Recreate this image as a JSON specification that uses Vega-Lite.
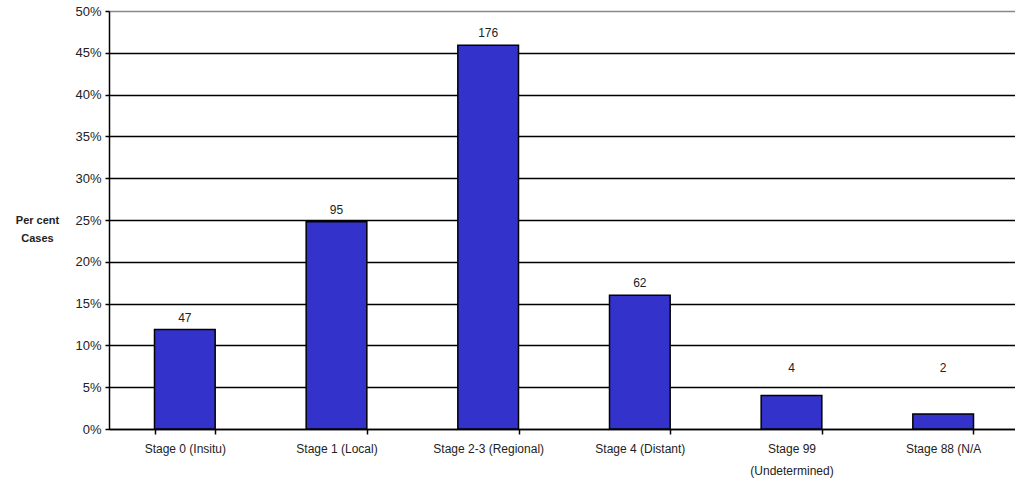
{
  "$schema": "https://vega.github.io/schema/vega-lite/v6.json",
  "autosize": {"type": "none"},
  "padding": {"left": 109, "top": 11, "right": 0, "bottom": 56},
  "width": 910,
  "height": 418,
  "background": "white",
  "config": {
    "view": {"stroke": null},
    "font": "Liberation Sans"
  },
  "data": {
    "values": [
      {"stage": "Stage 0 (Insitu)", "pct": 0.119, "count": 47},
      {"stage": "Stage 1 (Local)", "pct": 0.248, "count": 95},
      {"stage": "Stage 2-3 (Regional)", "pct": 0.459, "count": 176},
      {"stage": "Stage 4 (Distant)", "pct": 0.16, "count": 62},
      {"stage": "Stage 99 (Undetermined)", "pct": 0.04, "count": 4},
      {"stage": "Stage 88 (N/A", "pct": 0.018, "count": 2}
    ]
  },
  "encoding": {
    "x": {
      "field": "stage",
      "type": "nominal",
      "sort": null,
      "scale": {"paddingInner": 0.6, "paddingOuter": 0.3},
      "axis": {
        "title": null,
        "labelAngle": 0,
        "ticks": true,
        "tickBand": "extent",
        "domainColor": "black",
        "domainWidth": 1.5,
        "tickColor": "black",
        "tickWidth": 1.5,
        "tickSize": 5,
        "labelPadding": 9,
        "labelFontSize": 12,
        "labelColor": "#222222",
        "labelLineHeight": 22,
        "labelBaseline": "top",
        "labelExpr": "datum.label == 'Stage 99 (Undetermined)' ? ['Stage 99', '(Undetermined)'] : datum.label"
      }
    }
  },
  "layer": [
    {
      "mark": {"type": "bar", "color": "#3333CC", "stroke": "black", "strokeWidth": 1.5},
      "encoding": {
        "y": {
          "field": "pct",
          "type": "quantitative",
          "scale": {"domain": [0, 0.5], "nice": false},
          "axis": {
            "values": [0, 0.05, 0.1, 0.15, 0.2, 0.25, 0.3, 0.35, 0.4, 0.45, 0.5],
            "format": ".0%",
            "grid": true,
            "gridColor": {"condition": {"test": "datum.value >= 0.5", "value": "#888888"}, "value": "black"},
            "gridOpacity": 1,
            "gridWidth": 1.5,
            "domainColor": "black",
            "domainWidth": 1.5,
            "tickColor": "black",
            "tickWidth": 1.5,
            "tickSize": 4,
            "labelPadding": 4,
            "labelFontSize": 13,
            "labelColor": "#222222",
            "title": ["Per cent", "Cases"],
            "titleAngle": 0,
            "titleAlign": "center",
            "titleBaseline": "middle",
            "titleX": -72,
            "titleY": 209,
            "titleFontSize": 11,
            "titleFontWeight": "bold",
            "titleColor": "#222222",
            "titleLineHeight": 18
          }
        }
      }
    },
    {
      "transform": [{"calculate": "max(datum.pct, 0.059)", "as": "labelPos"}],
      "mark": {"type": "text", "dy": -12, "fontSize": 12, "color": "#222222", "baseline": "middle"},
      "encoding": {
        "y": {"field": "labelPos", "type": "quantitative"},
        "text": {"field": "count", "type": "quantitative"}
      }
    }
  ]
}
